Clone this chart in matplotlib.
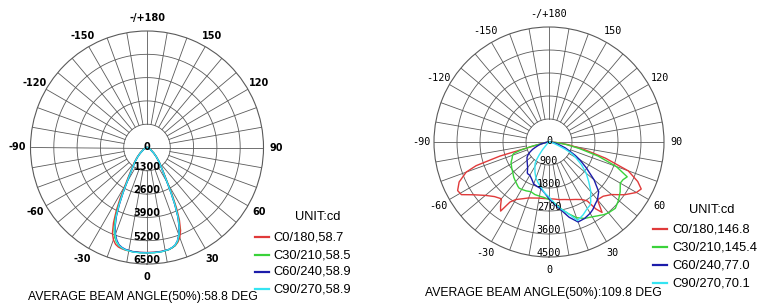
import matplotlib
matplotlib.use('Agg')
import matplotlib.pyplot as plt
import numpy as np
from matplotlib.lines import Line2D

W, H = 757, 304

# ---- left chart data (signed gamma angles, cd) ----
L_ANGLES = [-90, -80, -70, -60, -50, -45, -40, -35, -32, -30, -28, -26, -24, -22, -20, -18, -16, -14, -12, -8, -4,
            0, 4, 8, 12, 14, 16, 18, 20, 22, 24, 26, 28, 30, 32, 35, 40, 45, 50, 60, 70, 80, 90]
L_C0 = [0, 30, 100, 240, 540, 800, 1120, 1550, 2000, 2450, 3150, 3900, 4600, 5150, 5480, 5680, 5780, 5820, 5850, 5870, 5870,
        5860, 5860, 5850, 5820, 5770, 5700, 5560, 5350, 5000, 4450, 3750, 3000, 2350, 1900, 1500, 1080, 760, 520, 230, 90, 30, 0]
L_C30 = [0, 30, 90, 220, 500, 740, 1050, 1460, 1870, 2280, 2900, 3650, 4350, 4900, 5280, 5540, 5700, 5780, 5830, 5870, 5880,
         5880, 5880, 5870, 5830, 5770, 5690, 5520, 5230, 4850, 4300, 3600, 2900, 2280, 1870, 1460, 1050, 740, 500, 220, 90, 30, 0]
L_C60 = [0, 30, 90, 220, 500, 730, 1040, 1440, 1840, 2230, 2820, 3500, 4200, 4750, 5150, 5450, 5650, 5750, 5810, 5860, 5870,
         5870, 5870, 5860, 5820, 5760, 5670, 5480, 5180, 4780, 4230, 3530, 2830, 2230, 1840, 1440, 1040, 730, 500, 220, 90, 30, 0]
L_C90 = [0, 30, 90, 220, 500, 740, 1050, 1450, 1850, 2250, 2850, 3550, 4250, 4800, 5200, 5500, 5680, 5770, 5830, 5880, 5890,
         5880, 5880, 5870, 5820, 5760, 5670, 5490, 5200, 4800, 4250, 3550, 2850, 2250, 1850, 1450, 1050, 740, 500, 220, 90, 30, 0]
L_RINGS = [1300, 2600, 3900, 5200, 6500]
L_LEGEND = ['C0/180,58.7', 'C30/210,58.5', 'C60/240,58.9', 'C90/270,58.9']
L_NOTE = 'AVERAGE BEAM ANGLE(50%):58.8 DEG'

# ---- right chart data ----
R_ANGLES = [-90, -85, -80, -76, -74, -72, -70, -66, -62, -59, -55, -50, -45, -40, -37, -35, -33, -30, -25, -20, -15, -10, -5,
            0, 5, 10, 15, 20, 25, 30, 33, 35, 37, 40, 45, 50, 55, 60, 63, 66, 70, 74, 78, 82, 86, 90]
R_C0 = [0, 50, 150, 500, 2000, 3000, 3450, 3850, 4050, 4000, 3600, 3250, 3020, 2900, 3150, 3300, 2800, 2600, 2450, 2330, 2270, 2230, 2220,
        2220, 2240, 2290, 2330, 2400, 2480, 2600, 2750, 3200, 3450, 2950, 3000, 3200, 3600, 3950, 4050, 3800, 3300, 2300, 1400, 750, 300, 0]
R_C30 = [0, 50, 150, 700, 1150, 1450, 1520, 1580, 1680, 1720, 1780, 1850, 1950, 2030, 2080, 2120, 2150, 2140, 2110, 2070, 2130, 2150, 2180,
         2250, 2400, 2650, 2900, 3150, 3300, 3380, 3450, 3500, 3560, 3620, 3670, 3550, 3400, 3220, 3250, 3350, 2800, 2000, 1200, 650, 250, 0]
R_C60 = [0, 50, 150, 300, 380, 450, 520, 700, 850, 950, 1050, 1120, 1200, 1300, 1400, 1480, 1500, 1500, 1600, 1750, 1800, 1850, 2000,
         2220, 2450, 2700, 3050, 3330, 3300, 3220, 3150, 3080, 3020, 2950, 2750, 2300, 1800, 1390, 1150, 900, 680, 450, 300, 180, 80, 0]
R_C90 = [0, 0, 0, 0, 0, 0, 0, 0, 10, 20, 30, 50, 100, 400, 650, 850, 1000, 1100, 1300, 1500, 1650, 1800, 2000,
         2150, 2400, 2650, 2900, 3270, 3150, 3000, 2950, 2850, 2700, 2550, 2200, 1900, 1550, 1200, 1000, 700, 350, 200, 120, 60, 20, 0]
R_RINGS = [900, 1800, 2700, 3600, 4500]
R_LEGEND = ['C0/180,146.8', 'C30/210,145.4', 'C60/240,77.0', 'C90/270,70.1']
R_NOTE = 'AVERAGE BEAM ANGLE(50%):109.8 DEG'

COLORS = ['#e03a3a', '#3ad23a', '#1c1caa', '#35e4f2']
ANGLE_LABELS = ['0', '30', '60', '90', '120', '150', '-/+180', '-150', '-120', '-90', '-60', '-30']
GRID = '#5a5a5a'


def px(x, y):
    return x / W, 1 - y / H


def polar_chart(fig, cx, cy, rad, angles, series, rings, font):
    ax = fig.add_axes([(cx - rad) / W, (H - cy - rad) / H, 2 * rad / W, 2 * rad / H], projection='polar')
    rmax = rings[-1]
    ax.set_theta_zero_location('S')
    ax.set_theta_direction(1)
    ax.set_ylim(0, rmax)
    ax.set_xticks([])
    ax.set_yticks([])
    ax.grid(False)
    ax.spines['polar'].set_color(GRID)
    ax.spines['polar'].set_linewidth(0.8)

    full = np.linspace(0, 2 * np.pi, 361)
    for r in rings[:-1]:
        ax.plot(full, [r] * len(full), color=GRID, lw=0.6, zorder=1)
    for a in range(0, 360, 10):
        th = np.deg2rad(a)
        start = 0 if a in (90, 270) else rings[0]
        ax.plot([th, th], [start, rmax], color=GRID, lw=0.6, zorder=1)

    th = np.deg2rad(angles)
    for vals, c in zip(series, COLORS):
        ax.plot(th, vals, color=c, lw=1.0, zorder=3)

    for i, lab in enumerate(ANGLE_LABELS):
        ax.text(np.deg2rad(i * 30), rmax * 1.11, lab, ha='center', va='center', clip_on=False, **font)
    ax.text(0, rmax * 0.035, '0', ha='center', va='bottom', zorder=5, **font)
    for r in rings:
        ax.text(0, r - rmax * 0.035, str(r), ha='center', va='center', zorder=5, **font)
    return ax


def legend(fig, x_line, x_text, x_unit, y_unit, ys, labels):
    fig.text(*px(x_unit, y_unit), 'UNIT:cd', ha='center', va='center', family='Liberation Sans', fontsize=9.3)
    for y, lab, c in zip(ys, labels, COLORS):
        x0, yy = px(x_line, y)
        x1, _ = px(x_line + 14, y)
        fig.add_artist(Line2D([x0, x1], [yy, yy], color=c, lw=1.6, transform=fig.transFigure))
        fig.text(*px(x_text, y), lab, ha='left', va='center', family='Liberation Sans', fontsize=9.3)


def main():
    fig = plt.figure(figsize=(W / 100, H / 100), dpi=100)
    fig.patch.set_facecolor('white')

    left_font = dict(family='DejaVu Sans', fontweight='bold', fontsize=7)
    right_font = dict(family='DejaVu Sans Mono', fontsize=7.3)

    polar_chart(fig, 147, 147.5, 116.5, L_ANGLES, [L_C0, L_C30, L_C60, L_C90], L_RINGS, left_font)
    polar_chart(fig, 549, 142, 115, R_ANGLES, [R_C0, R_C30, R_C60, R_C90], R_RINGS, right_font)

    legend(fig, 255, 273, 318, 217, [237, 255, 272, 289], L_LEGEND)
    legend(fig, 653, 672, 712, 210, [229, 247, 265, 283], R_LEGEND)

    fig.text(*px(143, 297), L_NOTE, ha='center', va='center', family='Liberation Sans', fontsize=8.8)
    fig.text(*px(543, 293), R_NOTE, ha='center', va='center', family='Liberation Sans', fontsize=8.8)

    fig.savefig('out.png', dpi=100)


if __name__ == "__main__":
    main()
